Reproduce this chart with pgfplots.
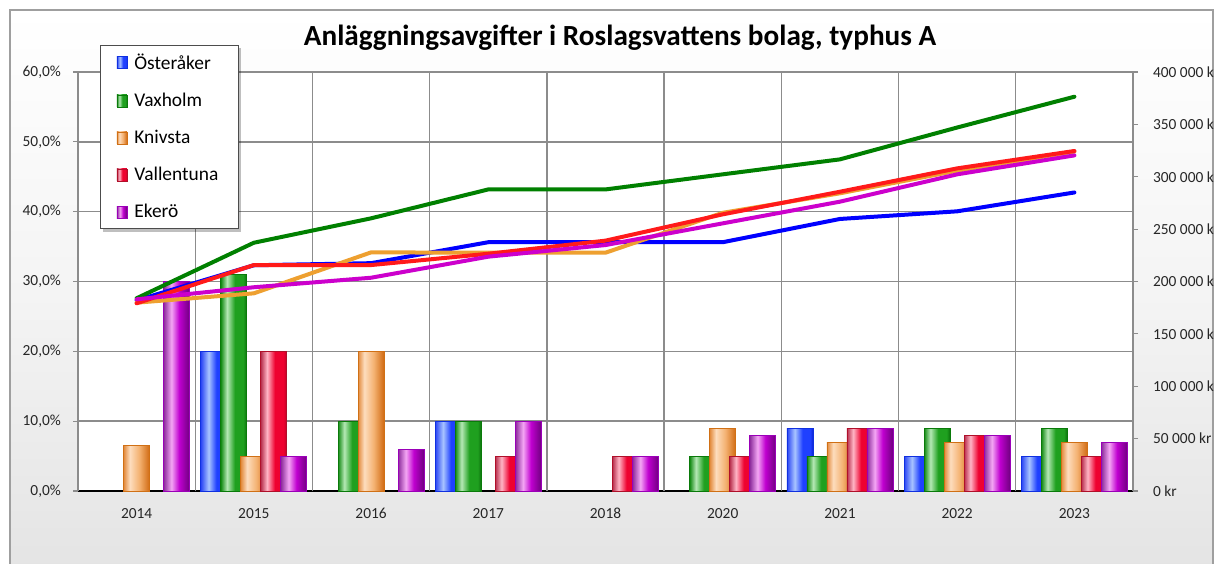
\documentclass[border=0pt]{standalone}
\usepackage{fontspec}
\setmainfont{Carlito}
\usepackage{pgfplots}
\pgfplotsset{compat=1.18}

% bar colours: left edge, highlight, body, right edge, border
\definecolor{bB1}{HTML}{2A45F5}\definecolor{bB2}{HTML}{A8C4FF}\definecolor{bB3}{HTML}{1F40FF}\definecolor{bB4}{HTML}{0A22D0}\definecolor{bBd}{HTML}{1030E0}
\definecolor{gG1}{HTML}{138A13}\definecolor{gG2}{HTML}{B5E8B5}\definecolor{gG3}{HTML}{1FA01F}\definecolor{gG4}{HTML}{0B700B}\definecolor{gGd}{HTML}{0A7A0A}
\definecolor{oO1}{HTML}{E28A3C}\definecolor{oO2}{HTML}{FDDDBE}\definecolor{oO3}{HTML}{F4B272}\definecolor{oO4}{HTML}{D06A12}\definecolor{oOd}{HTML}{D07015}
\definecolor{rR1}{HTML}{B8304E}\definecolor{rR2}{HTML}{FFB5C5}\definecolor{rR3}{HTML}{EE0230}\definecolor{rR4}{HTML}{C00028}\definecolor{rRd}{HTML}{B0102A}
\definecolor{pP1}{HTML}{8C2C9C}\definecolor{pP2}{HTML}{F4A6F4}\definecolor{pP3}{HTML}{C000D0}\definecolor{pP4}{HTML}{700080}\definecolor{pPd}{HTML}{9A00B8}
% line colours
\definecolor{lblue}{HTML}{0000FF}
\definecolor{lgreen}{HTML}{008000}
\definecolor{lorange}{HTML}{EEA030}
\definecolor{lred}{HTML}{FF1A1A}
\definecolor{lpurple}{HTML}{CC00CC}
\definecolor{bggray}{HTML}{E4E4E4}
\definecolor{gridgray}{HTML}{8C8C8C}

\pgfdeclarehorizontalshading{bluebar}{100bp}{color(0bp)=(bB1); color(25bp)=(bB1); color(40bp)=(bB2); color(55bp)=(bB3); color(70bp)=(bB3); color(75bp)=(bB4); color(100bp)=(bB4)}
\pgfdeclarehorizontalshading{greenbar}{100bp}{color(0bp)=(gG1); color(25bp)=(gG1); color(37bp)=(gG2); color(52bp)=(gG3); color(68bp)=(gG3); color(75bp)=(gG4); color(100bp)=(gG4)}
\pgfdeclarehorizontalshading{orangebar}{100bp}{color(0bp)=(oO1); color(25bp)=(oO1); color(37bp)=(oO2); color(55bp)=(oO3); color(75bp)=(oO4); color(100bp)=(oO4)}
\pgfdeclarehorizontalshading{redbar}{100bp}{color(0bp)=(rR1); color(25bp)=(rR1); color(37bp)=(rR2); color(52bp)=(rR3); color(68bp)=(rR3); color(75bp)=(rR4); color(100bp)=(rR4)}
\pgfdeclarehorizontalshading{purplebar}{100bp}{color(0bp)=(pP1); color(25bp)=(pP1); color(40bp)=(pP2); color(55bp)=(pP3); color(75bp)=(pP4); color(100bp)=(pP4)}

\pgfplotsset{
  myaxis/.style={
    at={(39pt,36pt)}, anchor=south west,
    scale only axis, width=527.5pt, height=209.5pt,
    xmin=-0.5, xmax=8.5,
    tick label style={font=\fontsize{7.7}{9}\selectfont, black!85},
    tick align=outside,
  },
  bar/.style={ybar, bar width=13pt, line width=0.4pt},
  sB/.style={bar, bar shift=-20pt, shade, shading=bluebar, draw=bBd},
  sG/.style={bar, bar shift=-10pt, shade, shading=greenbar, draw=gGd},
  sO/.style={bar, bar shift=0pt, shade, shading=orangebar, draw=oOd},
  sR/.style={bar, bar shift=10pt, shade, shading=redbar, draw=rRd},
  sP/.style={bar, bar shift=20pt, shade, shading=purplebar, draw=pPd},
}
% one bar per plot, so that each bar gets its own shading
\newcommand\bb[3]{\addplot[#1, forget plot] coordinates {(#2,#3)};}

\begin{document}
\begin{tikzpicture}
\useasboundingbox (0,0) rectangle (608pt,281.5pt);
\fill[white] (0,0) rectangle (608pt,281.5pt);
\shade[top color=white, bottom color=bggray, middle color=white!60!bggray]
  (5pt,-4pt) rectangle (606.5pt,276.5pt);
\draw[gray!75, line width=0.8pt] (5pt,-4pt) rectangle (606.5pt,276.5pt);

\node[font=\bfseries\fontsize{14.6}{17}\selectfont] at (310pt,262.5pt)
  {Anläggningsavgifter i Roslagsvattens bolag, typhus A};

\begin{scope}
\clip (5pt,-4pt) rectangle (606.5pt,276.5pt);

% left axis: bars in percent
\begin{axis}[myaxis,
  ymin=0, ymax=60, clip=false,
  axis background/.style={fill=white},
  axis x line*=bottom, axis y line*=left,
  x axis line style={-, black, line width=1pt},
  y axis line style={-, gridgray, line width=0.6pt},
  xtick={0,...,8},
  xticklabels={2014,2015,2016,2017,2018,2020,2021,2022,2023},
  xtick style={draw=none},
  xticklabel style={yshift=-2.5pt},
  extra x ticks={-0.5,0.5,...,8.5},
  extra x tick labels={},
  extra x tick style={xmajorgrids=true, major tick length=2pt,
    tick style={draw=black, line width=0.8pt}},
  ytick={0,10,...,60},
  ymajorgrids=true,
  major grid style={gridgray, line width=0.7pt},
  ytick style={gridgray, line width=0.6pt}, major tick length=2.5pt,
  yticklabel={\pgfmathprintnumber[fixed,fixed zerofill,precision=1,use comma,assume math mode=true]{\tick}\%},
  yticklabel style={xshift=-2.5pt},
  legend image code/.code={\draw[#1] (0pt,-3pt) rectangle (5pt,3pt);},
  legend cell align=left,
  legend style={at={(rel axis cs:0.0209,1.0644)}, anchor=north west,
    draw=black!70, fill=white, line width=0.5pt,
    font=\fontsize{9.7}{11}\selectfont,
    row sep=6.3pt, column sep=1.5pt, inner xsep=8pt, inner ysep=2pt},
]
% soft shadow behind the legend box
\fill[black, opacity=0.25] (rel axis cs:0.0237,1.0573) rectangle (rel axis cs:0.1545,0.6181);
\addlegendimage{sB}\addlegendentry{Österåker}
\addlegendimage{sG}\addlegendentry{Vaxholm}
\addlegendimage{sO}\addlegendentry{Knivsta}
\addlegendimage{sR}\addlegendentry{Vallentuna}
\addlegendimage{sP}\addlegendentry{Ekerö}
% Österåker
\bb{sB}{1}{20} \bb{sB}{3}{10} \bb{sB}{6}{9} \bb{sB}{7}{5} \bb{sB}{8}{5}
% Vaxholm
\bb{sG}{1}{31} \bb{sG}{2}{10} \bb{sG}{3}{10} \bb{sG}{5}{5} \bb{sG}{6}{5} \bb{sG}{7}{9} \bb{sG}{8}{9}
% Knivsta
\bb{sO}{0}{6.5} \bb{sO}{1}{5} \bb{sO}{2}{20} \bb{sO}{5}{9} \bb{sO}{6}{7} \bb{sO}{7}{7} \bb{sO}{8}{7}
% Vallentuna
\bb{sR}{1}{20} \bb{sR}{3}{5} \bb{sR}{4}{5} \bb{sR}{5}{5} \bb{sR}{6}{9} \bb{sR}{7}{8} \bb{sR}{8}{5}
% Ekerö
\bb{sP}{0}{30} \bb{sP}{1}{5} \bb{sP}{2}{6} \bb{sP}{3}{10} \bb{sP}{4}{5} \bb{sP}{5}{8} \bb{sP}{6}{9} \bb{sP}{7}{8} \bb{sP}{8}{7}
\end{axis}

% right axis: lines in kronor
\begin{axis}[myaxis,
  ymin=0, ymax=400000,
  axis x line=none, axis y line*=right,
  y axis line style={-, gridgray, line width=0.6pt},
  ytick={0,50000,...,400000},
  ytick style={gridgray, line width=0.6pt}, major tick length=2.5pt,
  scaled y ticks=false,
  yticklabel={\pgfmathprintnumber[fixed,1000 sep={\ },assume math mode=true]{\tick}~kr},
  yticklabel style={xshift=4pt},
  every axis plot/.append style={line width=2pt, line join=round, line cap=round, mark=none},
]
\addplot[lblue] coordinates {
  (0,182000) (1,215500) (2,217500) (3,237500) (4,237500)
  (5,237500) (6,259700) (7,267000) (8,285000)};
\addplot[lgreen] coordinates {
  (0,184000) (1,237000) (2,260300) (3,287900) (4,287900)
  (5,302300) (6,316600) (7,347000) (8,376400)};
\addplot[lorange] coordinates {
  (0,179800) (1,188700) (2,227800) (3,227500) (4,227500)
  (5,265600) (6,284200) (7,305800) (8,324000)};
\addplot[lred] coordinates {
  (0,179200) (1,215700) (2,215700) (3,226500) (4,239000)
  (5,264100) (6,285700) (7,308000) (8,324600)};
\addplot[lpurple] coordinates {
  (0,183000) (1,194500) (2,203600) (3,223700) (4,234800)
  (5,255500) (6,276200) (7,302300) (8,320400)};
\end{axis}
\end{scope}
\end{tikzpicture}
\end{document}
